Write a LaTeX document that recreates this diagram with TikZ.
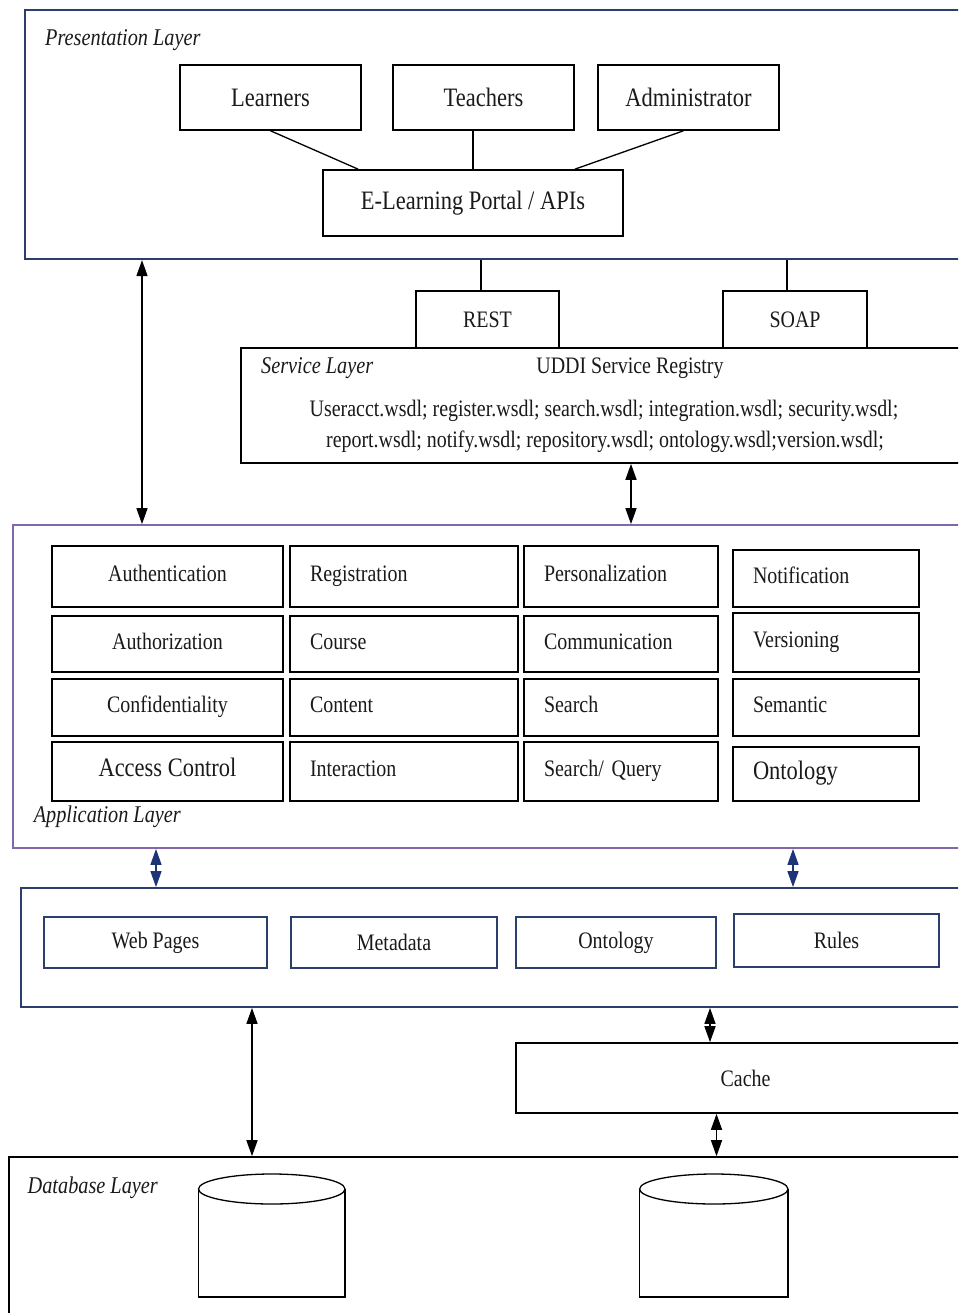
\documentclass[tikz,border=0pt]{standalone}
\usepackage{fontspec}
\setmainfont{Liberation Serif}[FakeStretch=0.845]
\usetikzlibrary{arrows.meta}

\definecolor{ink}{HTML}{1A1A1A}
\definecolor{framenavy}{HTML}{2C3E6E}
\definecolor{framepurple}{HTML}{8466AA}
\definecolor{arrownavy}{HTML}{1D3577}

\tikzset{
  txt/.style={font=\fontsize{23.6}{28}\selectfont, text=ink},
  bigtxt/.style={font=\fontsize{26.6}{32}\selectfont, text=ink},
  layerlabel/.style={font=\fontsize{24}{28}\selectfont\itshape, text=ink, inner sep=0pt, anchor=base west},
  frame/.style={draw, line width=1.8pt, inner sep=0pt},
  box/.style={draw=black, line width=1.6pt, inner sep=0pt, fill=white},
  cell/.style={box, txt, text height=15pt, text depth=5pt},
  lcell/.style={cell, text width=#1pt, align=left, inner xsep=20pt},
  databox/.style={box, draw=framenavy, line width=1.5pt, txt},
  link/.style={draw=black, line width=1.3pt},
  dbl/.style={{Triangle[length=16pt,width=11pt]}-{Triangle[length=16pt,width=11pt]}, line width=1.5pt, draw=black},
  ndbl/.style={dbl, draw=arrownavy, fill=arrownavy},
  cyl/.style={draw=black, line width=1.3pt},
}

\begin{document}
\begin{tikzpicture}[x=1pt,y=-1pt]
\useasboundingbox (0,0) rectangle (958,1313);
\clip (0,0) rectangle (958,1313);
\fill[white] (0,0) rectangle (958,1313);

% x positions of the vertical connectors
\coordinate (restx) at (481,0);
\coordinate (soapx) at (787,0);
\coordinate (ax1) at (142,0);
\coordinate (ax2) at (631,0);
\coordinate (ax3) at (156,0);
\coordinate (ax4) at (793,0);
\coordinate (ax5) at (252,0);
\coordinate (ax6) at (710,0);
\coordinate (ax7) at (716.5,0);

% ---------------- Presentation layer ----------------
\node[frame, draw=framenavy, line width=2.2pt, minimum width=950pt, minimum height=249pt] (pres) at (500,134.5) {};
\node[layerlabel] (preslbl) at (45,46) {Presentation Layer};
\node[box, bigtxt, minimum width=181pt, minimum height=65pt] (learners) at (270.5,97.5) {Learners};
\node[box, bigtxt, minimum width=181pt, minimum height=65pt] (teachers) at (483.5,97.5) {Teachers};
\node[box, bigtxt, minimum width=181pt, minimum height=65pt] (admin) at (688.5,97.5) {Administrator};
\node[box, bigtxt, minimum width=300pt, minimum height=66pt] (portal) at (473,203) {E-Learning Portal / APIs};
\draw[link] (learners.south) -- ([xshift=36pt]portal.north west);
\draw[link] (portal.north) -- (portal.north |- teachers.south);
\draw[link] ([xshift=-5pt]admin.south) -- ([xshift=-49pt]portal.north east);

% ---------------- Service layer ----------------
\node[frame, draw=black, line width=1.6pt, minimum width=734pt, minimum height=115pt] (service) at (608,405.5) {};
\node[box, txt, minimum width=143pt, minimum height=57pt] (rest) at (487.5,319.5) {REST};
\node[box, txt, minimum width=144pt, minimum height=57pt] (soap) at (795,319.5) {SOAP};
\draw[link] (pres.south -| restx) -- (rest.north -| restx);
\draw[link] (pres.south -| soapx) -- (soap.north -| soapx);
\node[layerlabel] (servlbl) at (261,373) {Service Layer};
\node[txt, anchor=base] (uddi) at (630,373) {UDDI Service Registry};
\node[txt, anchor=base] (wsdl1) at (604,416) {Useracct.wsdl; register.wsdl; search.wsdl; integration.wsdl; security.wsdl;};
\node[txt, anchor=base] (wsdl2) at (605,447) {report.wsdl; notify.wsdl; repository.wsdl; ontology.wsdl;version.wsdl;};

% ---------------- Application layer ----------------
\node[frame, draw=framepurple, minimum width=962pt, minimum height=323pt] (app) at (494,686.5) {};

% column 1 (centred text)
\node[cell, minimum width=231pt, minimum height=61pt] (authn) at (167.5,576.5) {Authentication};
\node[cell, minimum width=231pt, minimum height=56pt] (authz) at (167.5,644) {Authorization};
\node[cell, minimum width=231pt, minimum height=57pt] (conf) at (167.5,707.5) {Confidentiality};
\node[cell, bigtxt, minimum width=231pt, minimum height=59pt] (acc) at (167.5,771.5) {Access Control};
% column 2
\node[lcell=188, minimum width=228pt, minimum height=61pt] (reg) at (404,576.5) {Registration};
\node[lcell=188, minimum width=228pt, minimum height=56pt] (course) at (404,644) {Course};
\node[lcell=188, minimum width=228pt, minimum height=57pt] (content) at (404,707.5) {Content};
\node[lcell=188, minimum width=228pt, minimum height=59pt] (inter) at (404,771.5) {Interaction};
% column 3
\node[lcell=154, minimum width=194pt, minimum height=61pt] (pers) at (621,576.5) {Personalization};
\node[lcell=154, minimum width=194pt, minimum height=56pt] (comm) at (621,644) {Communication};
\node[lcell=154, minimum width=194pt, minimum height=57pt] (search) at (621,707.5) {Search};
\node[lcell=154, minimum width=194pt, minimum height=59pt] (query) at (621,771.5) {Search/ Query};
% column 4
\node[lcell=146, minimum width=186pt, minimum height=57pt] (notif) at (826,578.5) {Notification};
\node[lcell=146, minimum width=186pt, minimum height=59pt] (vers) at (826,642.5) {Versioning};
\node[lcell=146, minimum width=186pt, minimum height=57pt] (sem) at (826,707.5) {Semantic};
\node[lcell=146, bigtxt, minimum width=186pt, minimum height=54pt] (onto) at (826,774) {Ontology};
\node[layerlabel] (applbl) at (33.6,822) {Application Layer};

\draw[dbl] (pres.south -| ax1) -- (app.north -| ax1);
\draw[dbl] (service.south -| ax2) -- (app.north -| ax2);

% ---------------- Data layer ----------------
\node[frame, draw=framenavy, minimum width=954pt, minimum height=119pt] (data) at (498,947.5) {};
\node[databox, minimum width=223pt, minimum height=51pt] (web) at (155.5,942.5) {Web Pages};
\node[databox, minimum width=206pt, minimum height=51pt] (meta) at (394,942.5) {Metadata};
\node[databox, minimum width=200pt, minimum height=51pt] (dontology) at (616,942.5) {Ontology};
\node[databox, minimum width=205pt, minimum height=53pt] (rules) at (836.5,940.5) {Rules};

\draw[ndbl] (app.south -| ax3) -- (data.north -| ax3);
\draw[ndbl] (app.south -| ax4) -- (data.north -| ax4);

% ---------------- Cache ----------------
\node[box, txt, minimum width=459pt, minimum height=70pt] (cache) at (745.5,1078) {Cache};

% ---------------- Database layer ----------------
\node[frame, draw=black, line width=1.6pt, minimum width=966pt, minimum height=173pt] (db) at (492,1243.5) {};
\node[layerlabel] (dblbl) at (27.5,1193) {Database Layer};

\draw[dbl] (data.south -| ax5) -- (db.north -| ax5);
\draw[dbl] (data.south -| ax6) -- (cache.north -| ax6);
\draw[dbl] (cache.south -| ax7) -- (db.north -| ax7);

% two data stores
\draw[cyl] (198.5,1189) -- (198.5,1297) -- (345,1297) -- (345,1189);
\draw[cyl, fill=white] (271.75,1189) ellipse [x radius=73.25, y radius=15];
\draw[cyl] (639.6,1189) -- (639.6,1297) -- (788,1297) -- (788,1189);
\draw[cyl, fill=white] (713.8,1189) ellipse [x radius=74.2, y radius=15];
\end{tikzpicture}
\end{document}
